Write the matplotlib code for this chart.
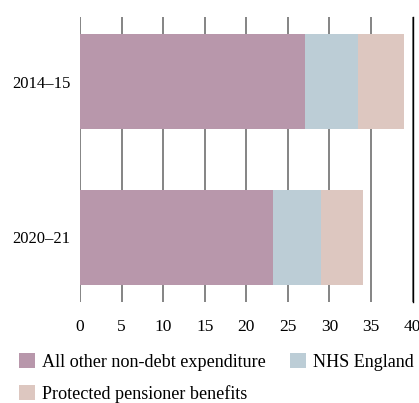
import matplotlib
matplotlib.use('Agg')
import matplotlib.pyplot as plt
from matplotlib.patches import Patch

plt.rcParams['font.family'] = ['Liberation Serif', 'DejaVu Serif']

years = ['2014–15', '2020–21']
other_spend = [27.1, 23.2]
nhs_england = [6.3, 5.8]
pensioner = [5.6, 5.0]

labels = ['All other non-debt expenditure', 'NHS England', 'Protected pensioner benefits']
colors = ['#b897ab', '#bccdd6', '#ddc7c0']

fig = plt.figure(figsize=(4.19, 4.03), dpi=100)
ax = fig.add_axes([0.1909, 0.2506, 0.7938, 0.7072])

pos = list(range(len(years)))
left = [0.0] * len(years)
for vals, col in zip([other_spend, nhs_england, pensioner], colors):
    ax.barh(pos, vals, left=left, height=0.61, color=col, zorder=2)
    left = [a + b for a, b in zip(left, vals)]

ax.set_xlim(0, 40)
ax.set_ylim(1.415, -0.415)
ax.set_xticks(range(0, 41, 5))
ax.set_yticks(pos)
ax.set_yticklabels(years)
ax.tick_params(axis='both', length=0)
ax.tick_params(axis='x', pad=12, labelsize=12.5)
ax.tick_params(axis='y', pad=7, labelsize=12)
ax.grid(axis='x', color='#707070', linewidth=1.2, zorder=0)
ax.set_axisbelow(True)
for s in ['top', 'bottom', 'left']:
    ax.spines[s].set_visible(False)
ax.spines['right'].set_color('black')
ax.spines['right'].set_linewidth(1.0)

handles = [Patch(facecolor=colors[0]), Patch(facecolor=colors[2]), Patch(facecolor=colors[1])]
fig.legend(handles, [labels[0], labels[2], labels[1]], ncol=2, frameon=False,
           loc='upper left', bbox_to_anchor=(0.045, 0.123), borderpad=0, borderaxespad=0,
           fontsize=13.1, handlelength=0.88, handleheight=0.88, handletextpad=0.4,
           columnspacing=1.3, labelspacing=0.75)

fig.savefig('out.png', dpi=100)
